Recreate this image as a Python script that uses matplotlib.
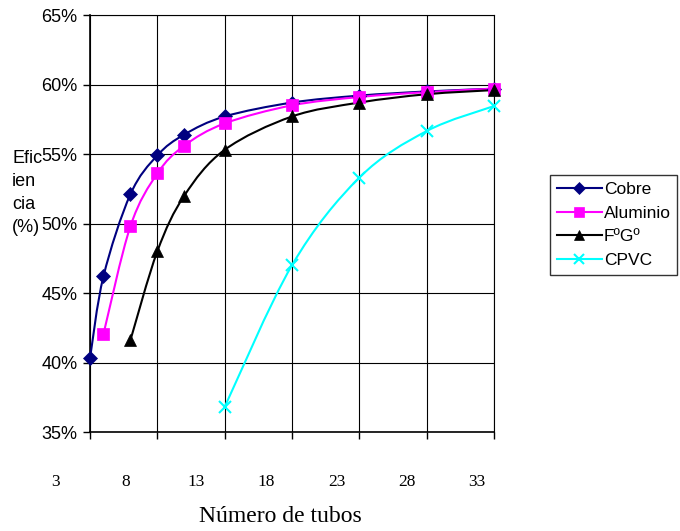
import matplotlib
matplotlib.use("Agg")
import matplotlib.pyplot as plt
import numpy as np
from matplotlib.path import Path
from matplotlib.patches import PathPatch
from matplotlib.lines import Line2D

# numero de tubos y eficiencia (%) por material
TUBOS = [5, 6, 8, 10, 12, 15, 20, 25, 30, 35]
COBRE = [40.3, 46.2, 52.1, 54.9, 56.4, 57.7, 58.7, 59.2, 59.5, 59.7]
TUBOS_AL = [6, 8, 10, 12, 15, 20, 25, 30, 35]
ALUMINIO = [42.05, 49.8, 53.6, 55.6, 57.2, 58.5, 59.1, 59.45, 59.7]
TUBOS_FG = [8, 10, 12, 15, 20, 25, 30, 35]
FG = [41.6, 48.0, 52.0, 55.3, 57.7, 58.7, 59.3, 59.6]
TUBOS_CPVC = [15, 20, 25, 30, 35]
CPVC = [36.8, 47.0, 53.3, 56.65, 58.45]
ETIQUETAS_X = [3, 8, 13, 18, 23, 28, 33]

W, H = 680, 531
plt.rcParams['font.family'] = ['Liberation Sans', 'DejaVu Sans']
FS = 13

def curva_suave(ax, xs, ys, color):
    # segmentos bezier tipo excel (tangentes catmull-rom / 6)
    p = np.column_stack([xs, ys]).astype(float)
    pp = np.vstack([p[0], p, p[-1]])
    verts = [tuple(p[0])]
    codes = [Path.MOVETO]
    for i in range(1, len(pp) - 2):
        p0, p1, p2, p3 = pp[i - 1], pp[i], pp[i + 1], pp[i + 2]
        c1 = p1 + (p2 - p0) / 6.0
        c2 = p2 - (p3 - p1) / 6.0
        verts += [tuple(c1), tuple(c2), tuple(p2)]
        codes += [Path.CURVE4] * 3
    patch = PathPatch(Path(verts, codes), facecolor='none', edgecolor=color,
                      lw=1.5, transform=ax.transData, zorder=3)
    ax.add_patch(patch)

fig = plt.figure(figsize=(W / 100, H / 100), dpi=100)
ax = fig.add_axes([90 / W, 1 - 432 / H, (494 - 90) / W, (432 - 15) / H])

series = [
    (TUBOS, COBRE, '#000080', 'D', 7, 'Cobre'),
    (TUBOS_AL, ALUMINIO, '#FF00FF', 's', 8, 'Aluminio'),
    (TUBOS_FG, FG, '#000000', '^', 8, 'FºGº'),
    (TUBOS_CPVC, CPVC, '#00FFFF', 'x', 8, 'CPVC'),
]
handles = []
for xs, ys, c, m, ms, nombre in series:
    curva_suave(ax, xs, ys, c)
    mew = 1.5 if m == 'x' else 0.5
    ax.plot(xs, ys, linestyle='none', marker=m, markersize=ms, color=c,
            markeredgecolor=c, markeredgewidth=mew, zorder=4, clip_on=False)
    handles.append(Line2D([], [], color=c, lw=1.5, marker=m, markersize=ms - 1,
                          markeredgewidth=mew, label=nombre))

ax.set_xlim(5, 35)
ax.set_ylim(35, 65)
ax.set_xticks(np.arange(5, 36, 5))
ax.set_yticks(np.arange(35, 66, 5))
ax.set_yticklabels(['%d%%' % v for v in np.arange(35, 66, 5)], fontsize=FS)
ax.tick_params(axis='x', direction='out', length=5, width=1, labelbottom=False)
ax.tick_params(axis='y', direction='out', length=5, width=1, pad=4)
ax.grid(True, color='black', lw=0.8)
ax.set_axisbelow(True)
for s in ax.spines.values():
    s.set_color('black')
    s.set_linewidth(0.8)
ax.spines['left'].set_linewidth(1.2)
ax.spines['bottom'].set_linewidth(1.2)

# fila de etiquetas del eje x
ax2 = fig.add_axes([56 / W, 1 - 473 / H, (477 - 56) / W, 0.001])
ax2.set_xlim(3, 33)
ax2.set_xticks(ETIQUETAS_X)
ax2.set_xticklabels([str(v) for v in ETIQUETAS_X], fontsize=12.5,
                    family='Liberation Serif')
ax2.tick_params(axis='x', length=0, pad=1)
ax2.set_yticks([])
for s in ax2.spines.values():
    s.set_visible(False)
ax2.patch.set_visible(False)

fig.text(280 / W, 1 - 517 / H, 'Número de tubos', ha='center', va='center',
         fontsize=17, family='Liberation Serif')
fig.text(12 / W, 1 - 150 / H, 'Efic\nien\ncia\n(%)', ha='left', va='top',
         fontsize=FS, linespacing=1.45)

leg = fig.legend(handles=handles, loc='upper left',
                 bbox_to_anchor=(550 / W, 1 - 175 / H), fontsize=12.5,
                 frameon=True, fancybox=False, handlelength=2.6,
                 handletextpad=0.12, labelspacing=0.5, borderpad=0.38,
                 borderaxespad=0, edgecolor='black')
leg.get_frame().set_linewidth(1.0)

fig.savefig('out.png', dpi=100)
